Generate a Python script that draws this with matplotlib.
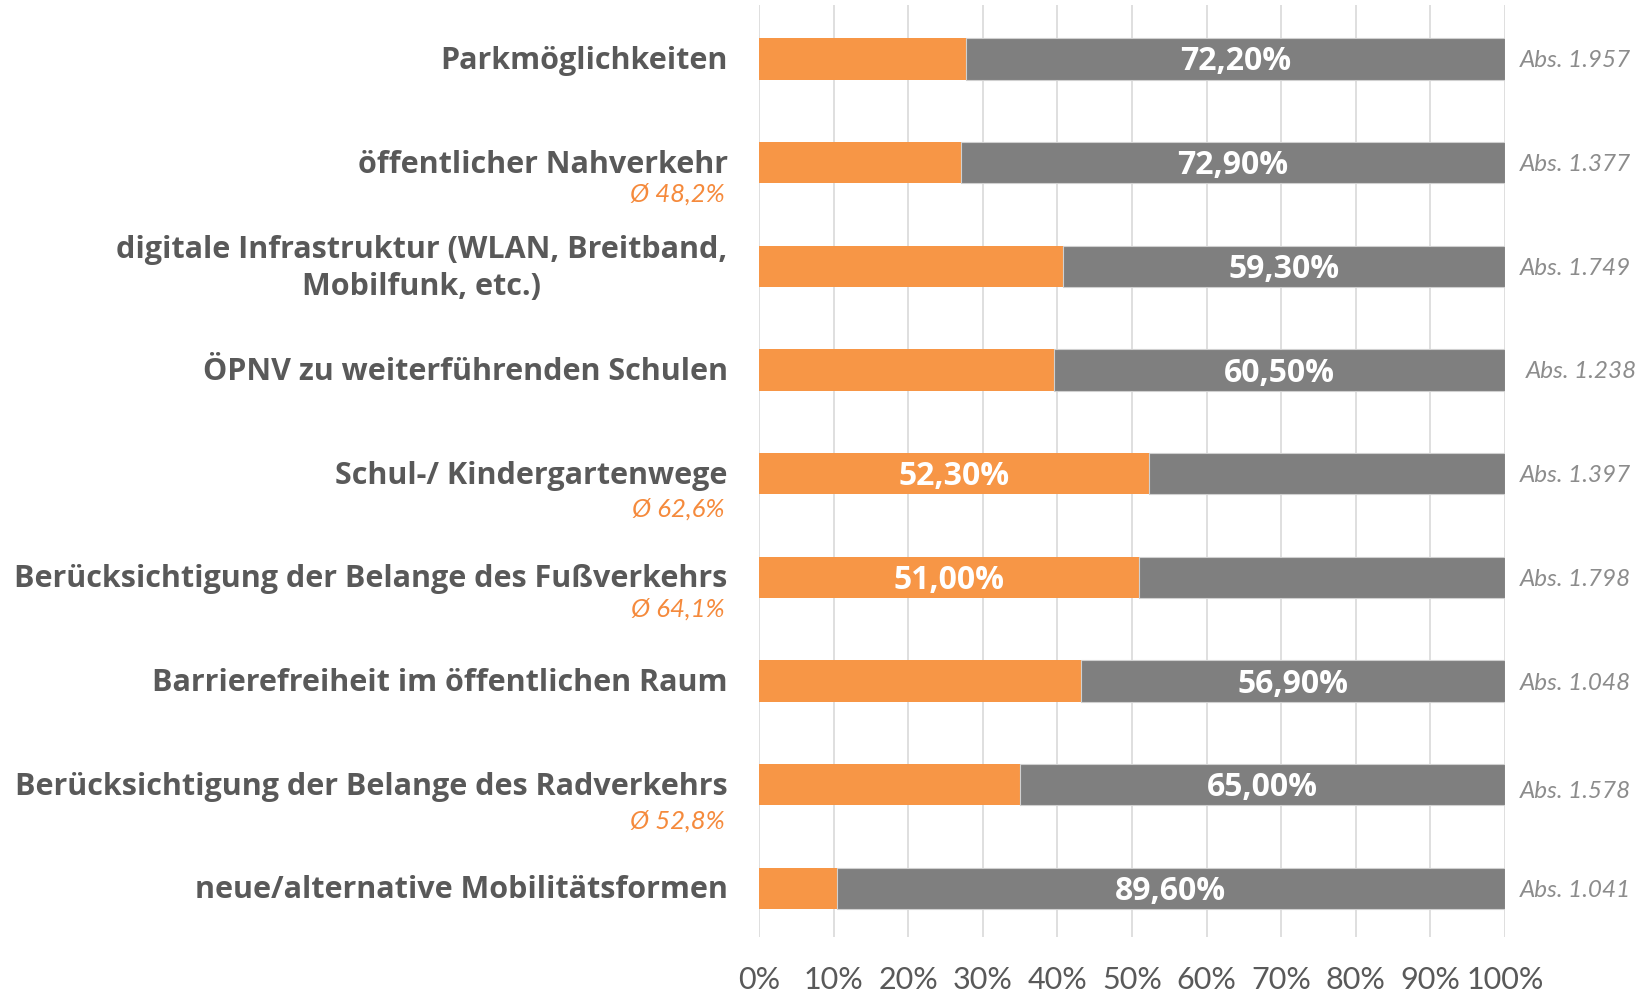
import matplotlib
matplotlib.use("Agg")
import matplotlib.pyplot as plt
from matplotlib.ticker import FuncFormatter

categories = [
    "Parkmöglichkeiten",
    "öffentlicher Nahverkehr",
    "digitale Infrastruktur (WLAN, Breitband,\nMobilfunk, etc.)",
    "ÖPNV zu weiterführenden Schulen",
    "Schul-/ Kindergartenwege",
    "Berücksichtigung der Belange des Fußverkehrs",
    "Barrierefreiheit im öffentlichen Raum",
    "Berücksichtigung der Belange des Radverkehrs",
    "neue/alternative Mobilitätsformen",
]
orange_pct = [27.8, 27.1, 40.7, 39.5, 52.3, 51.0, 43.1, 35.0, 10.4]
gray_pct = [72.2, 72.9, 59.3, 60.5, 47.7, 49.0, 56.9, 65.0, 89.6]
# which segment carries the value label
label_on_orange = [False, False, False, False, True, True, False, False, False]
abs_counts = ["1.957", "1.377", "1.749", "1.238", "1.397", "1.798", "1.048", "1.578", "1.041"]
averages = {1: "48,2%", 4: "62,6%", 5: "64,1%", 7: "52,8%"}
ticks = list(range(0, 101, 10))

ORANGE = "#F79646"
GRAY = "#7F7F7F"
TEXT = "#595959"
ORANGE_TXT = "#F58A3C"
BOLD = ["Open Sans", "DejaVu Sans"]
LIGHT = ["Lato", "DejaVu Sans"]

plt.rcParams["font.family"] = LIGHT

fig = plt.figure(figsize=(16.42, 9.94), dpi=100)
ax = fig.add_axes([0.4622, 0.0573, 0.9166 - 0.4622, 0.995 - 0.0573])

y = list(range(len(categories)))
h = 0.40
ax.barh(y, orange_pct, height=h, color=ORANGE, zorder=3)
ax.barh(y, gray_pct, left=orange_pct, height=h, color=GRAY, zorder=3,
        edgecolor="#D0D0D0", linewidth=0.8)

def pct(v):
    return f"{v:.2f}".replace(".", ",") + "%"

# small per-row nudges for the absolute-count notes
abs_dx = {3: 0.8}
abs_dy = {7: 0.05}
avg_dy = {1: 0.30, 4: 0.34, 5: 0.31, 7: 0.35}

for i in y:
    if label_on_orange[i]:
        cx, v = orange_pct[i] / 2, orange_pct[i]
    else:
        cx, v = orange_pct[i] + gray_pct[i] / 2, gray_pct[i]
    ax.text(cx, i + 0.03, pct(v), ha="center", va="center", color="white",
            fontsize=23, fontweight="bold", family=BOLD, zorder=4)
    ax.text(102.0 + abs_dx.get(i, 0), i + 0.02 + abs_dy.get(i, 0), "Abs. " + abs_counts[i],
            ha="left", va="center", color="#8C8C8C", fontsize=17.5,
            fontstyle="italic", family=LIGHT)
    ax.text(-4.2, i + 0.02, categories[i], ha="right", va="center", multialignment="center",
            color=TEXT, fontsize=22, fontweight="bold", family=BOLD, linespacing=1.28)

for i, a in averages.items():
    ax.text(-4.6, i + avg_dy[i], "Ø " + a, ha="right", va="center", color=ORANGE_TXT,
            fontsize=18.5, fontstyle="italic", family=LIGHT)

ax.set_xlim(0, 100)
ax.set_ylim(8.47, -0.52)
ax.set_xticks(ticks)
ax.xaxis.set_major_formatter(FuncFormatter(lambda v, p: f"{int(v)}%"))
ax.tick_params(axis="x", length=0, pad=21, labelsize=22, labelcolor=TEXT)
ax.set_yticks([])
ax.grid(axis="x", color="#D9D9D9", linewidth=1.2, zorder=0)
for s in ax.spines.values():
    s.set_visible(False)

fig.savefig("out.png", dpi=100, facecolor="white")
